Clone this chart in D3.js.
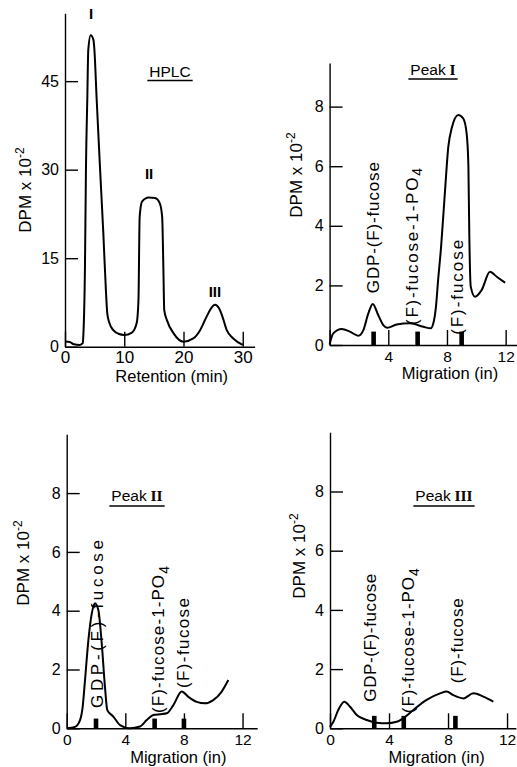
<!DOCTYPE html>
<html><head><meta charset="utf-8">
<script src="https://cdn.jsdelivr.net/npm/d3@7"></script>
<style>
body{margin:0;background:#fff}
svg{display:block}
text{font-family:"Liberation Sans",Arial,sans-serif;fill:#000}
.axis path,.axis line{stroke:#000;stroke-width:1.4}
</style>
</head><body>
<svg id="c" width="517" height="767"></svg>
<script>
// ---------- DATA ----------
// HPLC: retention (min) vs DPM x 10^-2
const hplcTime = [0, 0.8, 1.5, 2.5, 3.0, 3.1, 3.37, 3.54, 3.76, 3.93, 4.33, 4.8, 4.95, 5.35, 5.9, 6.47, 6.9, 7.14, 7.5, 8.15, 9.0, 10.0, 11.3, 12.1, 12.4, 12.6, 13.0, 14.1, 15.2, 16.0, 16.4, 16.6, 16.75, 17.2, 18.3, 20.0, 21.65, 22.8, 23.9, 24.6, 25.3, 26.0, 26.6, 27.3, 28.4, 30.0];
const hplcDpm  = [0.9, 0.8, 0.4, 0.3, 0.6, 2.0, 13.6, 30.5, 41.8, 50.3, 52.8, 52.0, 50.5, 41.8, 30.5, 19.2, 9.6, 5.6, 4.0, 2.8, 2.2, 2.0, 2.4, 4.0, 7.9, 22, 24.6, 25.3, 25.2, 24.3, 22, 13.5, 6.2, 4.5, 2.3, 0.85, 1.4, 2.8, 5.1, 6.4, 7.1, 6.5, 5.0, 2.8, 1.4, 0.3];
const hplcXTicks = [0, 10, 20, 30];
const hplcYTicks = [0, 15, 30, 45];
const hplcPeakNames = ["I", "II", "III"];
const hplcPeakTime = [4.4, 14.2, 25.3];
const hplcPeakLabelDpm = [55.5, 28.5, 8.5];

// Paper chromatography: migration (in) vs DPM x 10^-2
const migXTicks = [0, 4, 8, 12];
const migYTicks = [0, 2, 4, 6, 8];

const peak1Mig = [0, 0.25, 0.82, 1.39, 1.96, 2.3, 2.64, 2.94, 3.32, 3.66, 3.93, 4.57, 5.48, 6.39, 6.89, 7.07, 7.25, 7.4, 7.6, 7.87, 8.09, 8.32, 8.77, 9.11, 9.34, 9.46, 9.52, 9.62, 9.91, 10.37, 10.93, 11.39, 11.96];
const peak1Dpm = [0.02, 0.39, 0.54, 0.45, 0.31, 0.5, 1.06, 1.38, 1.0, 0.67, 0.58, 0.69, 0.73, 0.61, 0.56, 0.73, 1.29, 2.2, 3.3, 5.2, 6.65, 7.27, 7.72, 7.6, 7.1, 6.0, 3.75, 1.96, 1.62, 1.85, 2.46, 2.29, 2.09];
const peak1Markers = [3, 6, 9];
const peak1MarkerDpm = 0.45;

const peak2Mig = [0, 0.57, 0.91, 1.09, 1.25, 1.48, 1.71, 1.93, 2.16, 2.39, 2.61, 2.77, 3.18, 3.64, 4.3, 5.0, 5.46, 5.91, 6.4, 6.83, 7.28, 7.85, 8.3, 8.87, 9.44, 10.0, 10.58, 11.03];
const peak2Dpm = [0, 0.05, 0.28, 0.73, 1.64, 3.0, 3.9, 4.25, 4.02, 2.89, 1.42, 0.62, 0.4, 0.11, 0.0, 0.06, 0.28, 0.45, 0.48, 0.51, 0.79, 1.25, 1.07, 0.9, 0.85, 0.96, 1.25, 1.64];
const peak2Markers = [2, 6, 8];
const peak2MarkerDpm = 0.33;

const peak3Mig = [0, 0.23, 0.56, 0.97, 1.36, 1.81, 2.49, 3.16, 3.84, 4.52, 4.97, 5.65, 6.55, 7.46, 7.91, 8.36, 9.04, 9.72, 10.39, 11.07];
const peak3Dpm = [0.05, 0.22, 0.62, 0.9, 0.73, 0.45, 0.28, 0.19, 0.17, 0.22, 0.34, 0.62, 0.96, 1.18, 1.24, 1.12, 1.01, 1.18, 1.07, 0.9];
const peak3Markers = [3, 5, 8.5];
const peak3MarkerDpm = 0.42;

// standard labels (anchored at migration / DPM units)
const stdNames = ["GDP-(F)-fucose", "(F)-fucose-1-PO", "(F)-fucose"];
const peak1LabelMig = [2.98, 5.6, 8.66];
const peak1LabelDpm = [1.74, 0.67, 0.34];
const peak2LabelMig = [2.05, 6.25, 7.96];
const peak2LabelDpm = [0.69, 0.52, 1.37];
const peak3LabelMig = [2.71, 5.31, 8.59];
const peak3LabelDpm = [0.9, 0.51, 1.52];

// ---------- DRAW ----------
const svg = d3.select("#c");
const line = (x, y) => d3.line().x(d => x(d[0])).y(d => y(d[1])).curve(d3.curveMonotoneX);

function drawAxes(g, x, y, xt, yt, xLabelFilter, xFont, xPad) {
  const ya = g.append("g").attr("class", "axis").attr("transform", `translate(${x.range()[0]},0)`)
    .call(d3.axisLeft(y).tickValues(yt).tickSizeInner(-13).tickSizeOuter(0).tickPadding(6).tickFormat(d3.format("d")));
  ya.selectAll("text").attr("font-size", 16).attr("font-family", null);
  const xa = g.append("g").attr("class", "axis").attr("transform", `translate(0,${y.range()[0]})`)
    .call(d3.axisBottom(x).tickValues(xt).tickSizeInner(-15).tickSizeOuter(0).tickPadding(xPad)
      .tickFormat(d => xLabelFilter(d) ? d : ""));
  xa.selectAll("text").attr("font-size", xFont).attr("font-family", null);
  g.selectAll(".axis path.domain").attr("stroke-width", 1.5);
}

function yTitle(g, cx, cy) {
  const t = g.append("text").attr("transform", `translate(${cx},${cy}) rotate(-90)`)
    .attr("text-anchor", "middle").attr("dy", "0.35em").attr("font-size", 17);
  t.append("tspan").text("DPM x 10");
  t.append("tspan").text("-2").attr("dy", "-0.55em").attr("font-size", 12);
}

function xTitle(g, text, cx, by) {
  g.append("text").attr("x", cx).attr("y", by).attr("text-anchor", "middle").attr("font-size", 16.5).text(text);
}

function title(g, main, numeral, cx, by, uy) {
  const t = g.append("text").attr("x", cx).attr("y", by).attr("text-anchor", "middle").attr("font-size", 15.5);
  t.append("tspan").text(main);
  if (numeral) t.append("tspan").text(" " + numeral).attr("font-family", "Liberation Serif,serif").attr("font-weight", "bold");
  const w = t.node().getComputedTextLength();
  g.append("line").attr("x1", cx - w / 2 - 2).attr("x2", cx + w / 2 + 2).attr("y1", uy).attr("y2", uy)
    .attr("stroke", "#000").attr("stroke-width", 1.6);
}

function curve(g, x, y, xs, ys) {
  g.append("path").datum(xs.map((v, i) => [v, ys[i]])).attr("d", line(x, y))
    .attr("fill", "none").attr("stroke", "#000").attr("stroke-width", 2);
}

function markers(g, x, y, ms, h) {
  g.selectAll(null).data(ms).join("rect")
    .attr("x", d => x(d) - 2.3).attr("width", 4.6)
    .attr("y", y(h)).attr("height", y(0) - y(h)).attr("fill", "#000");
}

function stdLabels(g, x, y, lx, ly, lens) {
  stdNames.forEach((name, i) => {
    const t = g.append("text").attr("transform", `translate(${x(lx[i])},${y(ly[i])}) rotate(-90)`)
      .attr("dy", "0.36em").attr("font-size", 17);
    t.append("tspan").text(name);
    if (i === 1) t.append("tspan").text("4").attr("dy", "0.3em").attr("font-size", 14);
    if (lens) t.attr("textLength", lens[i]).attr("lengthAdjust", "spacing");
  });
}

// Panel 1: HPLC
{
  const g = svg.append("g");
  const x = d3.scaleLinear([0, 32], [65, 254.6]);
  const y = d3.scaleLinear([0, 56.5], [346.7, 13.3]);
  drawAxes(g, x, y, hplcXTicks, hplcYTicks, () => true, 17, 4);
  curve(g, x, y, hplcTime, hplcDpm);
  g.selectAll(null).data(hplcPeakNames).join("text")
    .attr("x", (d, i) => x(hplcPeakTime[i])).attr("y", (d, i) => y(hplcPeakLabelDpm[i]))
    .attr("text-anchor", "middle").attr("font-size", 15).attr("font-weight", "bold")
    .attr("font-family", "Liberation Serif,serif").text(d => d);
  title(g, "HPLC", null, 170, 77, 80.5);
  yTitle(g, 25, 190);
  xTitle(g, "Retention (min)", 171.7, 381.5);
}
// Panel 2: Peak I
{
  const g = svg.append("g");
  const x = d3.scaleLinear([0, 12.8], [329.6, 517.4]);
  const y = d3.scaleLinear([0, 9.46], [345, 63.1]);
  drawAxes(g, x, y, migXTicks, migYTicks, d => d !== 0, 15.5, 6);
  curve(g, x, y, peak1Mig, peak1Dpm);
  markers(g, x, y, peak1Markers, peak1MarkerDpm);
  stdLabels(g, x, y, peak1LabelMig, peak1LabelDpm, [131, 157, 95]);
  title(g, "Peak", "I", 433, 75, 79);
  yTitle(g, 296, 175);
  xTitle(g, "Migration (in)", 450, 378.5);
}
// Panel 3: Peak II
{
  const g = svg.append("g");
  const x = d3.scaleLinear([0, 13], [66.7, 257.2]);
  const y = d3.scaleLinear([0, 10], [728.3, 434.3]);
  drawAxes(g, x, y, migXTicks, migYTicks, () => true, 15.5, 6);
  curve(g, x, y, peak2Mig, peak2Dpm);
  markers(g, x, y, peak2Markers, peak2MarkerDpm);
  stdLabels(g, x, y, peak2LabelMig, peak2LabelDpm, [168, 147, 90]);
  title(g, "Peak", "II", 137, 501, 506);
  yTitle(g, 23, 563);
  xTitle(g, "Migration (in)", 178.3, 762.5);
}
// Panel 4: Peak III
{
  const g = svg.append("g");
  const x = d3.scaleLinear([0, 12.6], [330, 515.9]);
  const y = d3.scaleLinear([0, 10], [728.3, 432.3]);
  drawAxes(g, x, y, migXTicks, migYTicks, () => true, 15.5, 6);
  curve(g, x, y, peak3Mig, peak3Dpm);
  markers(g, x, y, peak3Markers, peak3MarkerDpm);
  stdLabels(g, x, y, peak3LabelMig, peak3LabelDpm, [128, 145, 85]);
  title(g, "Peak", "III", 444, 501, 506);
  yTitle(g, 299, 556);
  xTitle(g, "Migration (in)", 436.7, 762.5);
}
</script>
</body></html>
